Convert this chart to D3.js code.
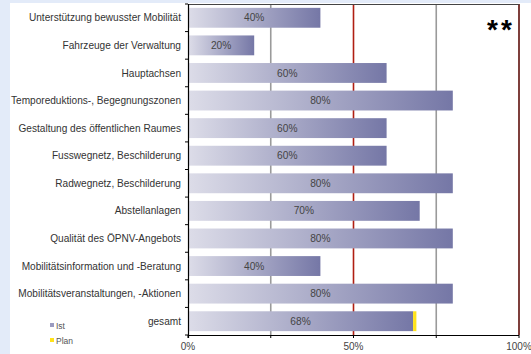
<!DOCTYPE html>
<html>
<head>
<meta charset="utf-8">
<script src="https://cdn.jsdelivr.net/npm/d3@7"></script>
<style>
  html, body { margin: 0; padding: 0; background: #e3ebf9; }
  svg { display: block; }
  text { font-family: "Liberation Sans", Arial, sans-serif; }
</style>
</head>
<body>
<svg id="chart" width="531" height="354"></svg>
<script>
// Massnahmenbereiche und Umsetzungsgrad (Ist / Plan)
const categories = [
  "Unterstützung bewusster Mobilität",
  "Fahrzeuge der Verwaltung",
  "Hauptachsen",
  "Temporeduktions-, Begegnungszonen",
  "Gestaltung des öffentlichen Raumes",
  "Fusswegnetz, Beschilderung",
  "Radwegnetz, Beschilderung",
  "Abstellanlagen",
  "Qualität des ÖPNV-Angebots",
  "Mobilitätsinformation und -Beratung",
  "Mobilitätsveranstaltungen, -Aktionen",
  "gesamt"
];
const istValues = [40, 20, 60, 80, 60, 60, 80, 70, 80, 40, 80, 68];
const planValues = [null, null, null, null, null, null, null, null, null, null, null, 69];
const xTicks = [0, 25, 50, 75, 100];
const xTickLabels = {0: "0%", 50: "50%", 100: "100%"};
const legendItems = ["Ist", "Plan"];

const svg = d3.select("#chart");
const W = 531, H = 354;

// white panel
svg.append("rect").attr("x", 10).attr("y", 3).attr("width", W - 10).attr("height", H - 3).attr("fill", "#ffffff");

const plotL = 188, plotR = 519, plotT = 4, plotB = 335;
const x = d3.scaleLinear().domain([0, 100]).range([plotL, plotR]);
const y = d3.scaleBand().domain(categories).range([plotT, plotB]).paddingInner(0.28).paddingOuter(0.14);

// bar gradient
const defs = svg.append("defs");
const grad = defs.append("linearGradient").attr("id", "barGrad").attr("x1", "0%").attr("x2", "100%").attr("y1", "0%").attr("y2", "0%");
grad.append("stop").attr("offset", "0%").attr("stop-color", "#dcdce8");
grad.append("stop").attr("offset", "100%").attr("stop-color", "#7577a6");

// grid lines
const gridColor = {25: "#9a9a9a", 50: "#b01e12", 75: "#9a9a9a", 100: "#5e0f0b"};
svg.append("g").selectAll("line").data(xTicks.filter(d => d > 0)).join("line")
  .attr("x1", d => x(d)).attr("x2", d => x(d))
  .attr("y1", plotT).attr("y2", plotB)
  .attr("stroke", d => gridColor[d]).attr("stroke-width", 1.6);

// top frame line
svg.append("line").attr("x1", plotL).attr("x2", plotR).attr("y1", plotT + 0.5).attr("y2", plotT + 0.5)
  .attr("stroke", "#444").attr("stroke-width", 1);

// bars
svg.append("g").selectAll("rect").data(categories).join("rect")
  .attr("x", x(0) + 1)
  .attr("y", d => y(d))
  .attr("width", (d, i) => x(istValues[i]) - x(0) - 1)
  .attr("height", y.bandwidth())
  .attr("fill", "url(#barGrad)");

// plan markers
svg.append("g").selectAll("rect").data(categories.filter((d, i) => planValues[i] != null)).join("rect")
  .attr("x", d => x(istValues[categories.indexOf(d)]))
  .attr("y", d => y(d))
  .attr("width", d => {
    const i = categories.indexOf(d);
    return Math.max(0, x(planValues[i]) - x(istValues[i]));
  })
  .attr("height", y.bandwidth())
  .attr("fill", "#ffe21a");

// value labels
svg.append("g").selectAll("text").data(categories).join("text")
  .attr("x", (d, i) => (x(0) + x(istValues[i])) / 2)
  .attr("y", d => y(d) + y.bandwidth() / 2 + 3.6)
  .attr("text-anchor", "middle")
  .attr("font-size", 10.2)
  .attr("fill", "#444")
  .text((d, i) => istValues[i] + "%");

// y axis
const yAxis = svg.append("g");
yAxis.append("line").attr("x1", plotL + 0.5).attr("x2", plotL + 0.5).attr("y1", plotT).attr("y2", plotB + 3)
  .attr("stroke", "#000").attr("stroke-width", 1.2);
const boundaries = d3.range(categories.length + 1).map(i => plotT + i * y.step());
yAxis.selectAll("line.tick").data(boundaries).join("line").attr("class", "tick")
  .attr("x1", plotL - 3).attr("x2", plotL).attr("y1", d => d).attr("y2", d => d)
  .attr("stroke", "#000").attr("stroke-width", 1);
yAxis.selectAll("text").data(categories).join("text")
  .attr("x", plotL - 7)
  .attr("y", d => y(d) + y.bandwidth() / 2 + 3.6)
  .attr("text-anchor", "end")
  .attr("font-size", 10.1)
  .attr("fill", "#333")
  .text(d => d);

// x axis
const xAxis = svg.append("g");
xAxis.append("line").attr("x1", plotL).attr("x2", plotR).attr("y1", plotB + 0.5).attr("y2", plotB + 0.5)
  .attr("stroke", "#000").attr("stroke-width", 1.2);
xAxis.selectAll("line.tick").data(xTicks).join("line").attr("class", "tick")
  .attr("x1", d => x(d)).attr("x2", d => x(d)).attr("y1", plotB).attr("y2", plotB + 3)
  .attr("stroke", "#000").attr("stroke-width", 1);
xAxis.selectAll("text").data(xTicks.filter(d => xTickLabels[d])).join("text")
  .attr("x", d => x(d))
  .attr("y", plotB + 15)
  .attr("text-anchor", "middle")
  .attr("font-size", 10)
  .attr("fill", "#444")
  .text(d => xTickLabels[d]);

// significance mark
svg.append("text").attr("x", 487).attr("y", 39)
  .attr("font-size", 28).attr("font-weight", "bold").attr("fill", "#000")
  .attr("letter-spacing", 3)
  .text("**");

// legend
const legendColors = ["#9a9bc0", "#ffe21a"];
const lg = svg.append("g").selectAll("g").data(legendItems).join("g")
  .attr("transform", (d, i) => `translate(50, ${323 + i * 15})`);
lg.append("rect").attr("width", 4).attr("height", 4).attr("fill", (d, i) => legendColors[i]);
lg.append("text").attr("x", 6).attr("y", 6).attr("font-size", 8.5).attr("fill", "#555").text(d => d);
</script>
</body>
</html>
